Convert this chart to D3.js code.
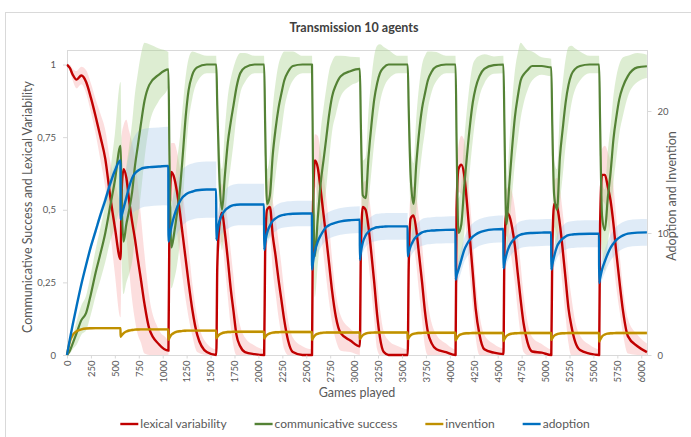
<!DOCTYPE html>
<html>
<head>
<meta charset="utf-8">
<script src="https://cdn.jsdelivr.net/npm/d3@7"></script>
<style>
  body { margin: 0; background: #fff; }
  svg { display: block; font-family: Lato, "Open Sans", sans-serif; }
</style>
</head>
<body>
<svg id="chart" width="691" height="437"></svg>
<script>
// Game index at which each generation starts, and the sampled game offsets inside a generation
const genStarts = [0, 560, 1060, 1560, 2060, 2560, 3060, 3560, 4060, 4560, 5060, 5560];
const firstGenOffsets = [0, 30, 60, 100, 150, 200, 250, 300, 350, 400, 450, 500, 559];
const genOffsets = [0, 10, 30, 60, 90, 120, 150, 180, 210, 250, 300, 400, 499];

// Axis ticks
const xTicks = [0, 250, 500, 750, 1000, 1250, 1500, 1750, 2000, 2250, 2500, 2750, 3000,
  3250, 3500, 3750, 4000, 4250, 4500, 4750, 5000, 5250, 5500, 5750, 6000];
const leftTicks = [0, 0.25, 0.5, 0.75, 1];
const leftTickLabels = ["0", "0,25", "0,5", "0,75", "1"];
const rightTicks = [0, 10, 20];

// Lexical variability (left axis), one row per generation
const lexicalVariability = [
  [1.0, 0.988, 0.965, 0.948, 0.962, 0.94, 0.885, 0.82, 0.75, 0.675, 0.55, 0.44, 0.33],
  [0.33, 0.55, 0.64, 0.61, 0.53, 0.46, 0.40, 0.33, 0.265, 0.175, 0.09, 0.037, 0.015],
  [0.015, 0.45, 0.63, 0.61, 0.56, 0.49, 0.41, 0.33, 0.25, 0.155, 0.07, 0.01, 0.0],
  [0.0, 0.3, 0.44, 0.49, 0.42, 0.33, 0.23, 0.15, 0.07, 0.03, 0.01, 0.003, 0.0],
  [0.0, 0.35, 0.50, 0.51, 0.41, 0.34, 0.26, 0.19, 0.12, 0.05, 0.01, 0.0, 0.0],
  [0.0, 0.5, 0.67, 0.645, 0.57, 0.485, 0.40, 0.31, 0.22, 0.13, 0.075, 0.05, 0.03],
  [0.03, 0.35, 0.51, 0.50, 0.44, 0.35, 0.25, 0.14, 0.06, 0.01, 0.0, 0.0, 0.0],
  [0.0, 0.3, 0.47, 0.48, 0.43, 0.34, 0.25, 0.15, 0.08, 0.04, 0.02, 0.01, 0.0],
  [0.0, 0.5, 0.64, 0.655, 0.62, 0.52, 0.40, 0.28, 0.16, 0.07, 0.02, 0.008, 0.003],
  [0.003, 0.35, 0.49, 0.48, 0.44, 0.375, 0.28, 0.19, 0.11, 0.045, 0.012, 0.008, 0.0],
  [0.0, 0.35, 0.52, 0.51, 0.45, 0.36, 0.26, 0.16, 0.10, 0.045, 0.017, 0.005, 0.0],
  [0.0, 0.45, 0.62, 0.62, 0.58, 0.53, 0.45, 0.35, 0.26, 0.15, 0.065, 0.03, 0.01]
];
const lexicalSpread = [
  [0, 0.01, 0.02, 0.03, 0.03, 0.04, 0.05, 0.06, 0.08, 0.1, 0.12, 0.16, 0.2],
  [0.2, 0.2, 0.15, 0.2, 0.24, 0.27, 0.28, 0.26, 0.22, 0.17, 0.11, 0.05, 0.03],
  [0.02, 0.12, 0.1, 0.12, 0.14, 0.15, 0.15, 0.14, 0.12, 0.09, 0.06, 0.03, 0.02],
  [0.02, 0.1, 0.08, 0.1, 0.12, 0.13, 0.13, 0.12, 0.1, 0.07, 0.05, 0.03, 0.02],
  [0.02, 0.1, 0.08, 0.1, 0.12, 0.13, 0.13, 0.12, 0.1, 0.07, 0.05, 0.03, 0.02],
  [0.02, 0.1, 0.09, 0.11, 0.13, 0.14, 0.14, 0.13, 0.11, 0.08, 0.06, 0.04, 0.03],
  [0.02, 0.1, 0.08, 0.1, 0.12, 0.13, 0.13, 0.12, 0.1, 0.07, 0.05, 0.03, 0.02],
  [0.02, 0.1, 0.08, 0.1, 0.12, 0.13, 0.13, 0.12, 0.1, 0.07, 0.05, 0.03, 0.02],
  [0.02, 0.1, 0.08, 0.1, 0.12, 0.13, 0.13, 0.12, 0.1, 0.07, 0.05, 0.03, 0.02],
  [0.02, 0.1, 0.08, 0.1, 0.12, 0.13, 0.13, 0.12, 0.1, 0.07, 0.05, 0.03, 0.02],
  [0.02, 0.1, 0.08, 0.1, 0.12, 0.13, 0.13, 0.12, 0.1, 0.07, 0.05, 0.03, 0.02],
  [0.02, 0.1, 0.09, 0.1, 0.12, 0.13, 0.13, 0.12, 0.1, 0.08, 0.06, 0.04, 0.03]
];

// Communicative success (left axis)
const communicativeSuccess = [
  [0, 0.015, 0.04, 0.075, 0.12, 0.145, 0.21, 0.285, 0.35, 0.42, 0.51, 0.60, 0.72],
  [0.72, 0.55, 0.39, 0.45, 0.50, 0.56, 0.65, 0.72, 0.79, 0.875, 0.93, 0.965, 0.983],
  [0.983, 0.7, 0.37, 0.42, 0.49, 0.57, 0.69, 0.82, 0.91, 0.965, 0.99, 1.0, 1.0],
  [1.0, 0.86, 0.63, 0.5, 0.62, 0.73, 0.80, 0.86, 0.92, 0.97, 0.99, 1.0, 1.0],
  [1.0, 0.8, 0.52, 0.55, 0.69, 0.78, 0.85, 0.9, 0.945, 0.975, 0.995, 1.0, 1.0],
  [1.0, 0.65, 0.34, 0.47, 0.59, 0.67, 0.75, 0.83, 0.89, 0.93, 0.96, 0.977, 0.985],
  [0.985, 0.8, 0.55, 0.54, 0.68, 0.79, 0.88, 0.935, 0.97, 0.99, 1.0, 1.0, 1.0],
  [1.0, 0.85, 0.62, 0.52, 0.66, 0.77, 0.85, 0.9, 0.945, 0.975, 0.993, 1.0, 1.0],
  [1.0, 0.75, 0.42, 0.45, 0.58, 0.69, 0.79, 0.87, 0.92, 0.96, 0.985, 0.998, 1.0],
  [1.0, 0.8, 0.45, 0.58, 0.71, 0.82, 0.89, 0.945, 0.965, 0.98, 0.995, 0.995, 0.99],
  [0.99, 0.8, 0.55, 0.5, 0.68, 0.78, 0.87, 0.93, 0.965, 0.985, 0.995, 1.0, 1.0],
  [1.0, 0.8, 0.48, 0.43, 0.54, 0.63, 0.745, 0.82, 0.88, 0.925, 0.96, 0.99, 0.994]
];
const communicativeSpread = [
  [0, 0.01, 0.02, 0.04, 0.05, 0.06, 0.07, 0.08, 0.09, 0.1, 0.12, 0.16, 0.22],
  [0.22, 0.2, 0.18, 0.2, 0.22, 0.24, 0.25, 0.25, 0.24, 0.2, 0.14, 0.09, 0.06],
  [0.04, 0.14, 0.14, 0.16, 0.18, 0.18, 0.17, 0.14, 0.11, 0.08, 0.05, 0.03, 0.03],
  [0.02, 0.12, 0.12, 0.14, 0.16, 0.16, 0.15, 0.13, 0.1, 0.07, 0.05, 0.03, 0.03],
  [0.02, 0.12, 0.12, 0.14, 0.16, 0.16, 0.15, 0.13, 0.1, 0.07, 0.05, 0.03, 0.03],
  [0.03, 0.14, 0.14, 0.16, 0.18, 0.18, 0.17, 0.15, 0.12, 0.1, 0.07, 0.05, 0.04],
  [0.03, 0.12, 0.12, 0.14, 0.16, 0.16, 0.15, 0.13, 0.1, 0.07, 0.05, 0.03, 0.03],
  [0.02, 0.12, 0.12, 0.14, 0.16, 0.16, 0.15, 0.13, 0.1, 0.07, 0.05, 0.03, 0.03],
  [0.02, 0.12, 0.12, 0.14, 0.16, 0.16, 0.15, 0.13, 0.1, 0.07, 0.05, 0.03, 0.03],
  [0.02, 0.12, 0.12, 0.14, 0.16, 0.16, 0.15, 0.13, 0.1, 0.07, 0.05, 0.03, 0.03],
  [0.02, 0.12, 0.12, 0.14, 0.16, 0.16, 0.15, 0.13, 0.1, 0.07, 0.05, 0.03, 0.03],
  [0.02, 0.12, 0.12, 0.14, 0.16, 0.16, 0.15, 0.14, 0.12, 0.1, 0.07, 0.05, 0.04]
];

// Invention (right axis)
const invention = [
  [0, 1.1, 1.65, 1.95, 2.1, 2.17, 2.19, 2.2, 2.2, 2.2, 2.2, 2.2, 2.2],
  [1.5, 1.6, 1.78, 1.93, 2.01, 2.05, 2.08, 2.09, 2.1, 2.1, 2.1, 2.1, 2.1],
  [1.25, 1.4, 1.65, 1.82, 1.91, 1.95, 1.98, 1.99, 2.0, 2.0, 2.0, 2.0, 2.0],
  [1.37, 1.48, 1.66, 1.79, 1.85, 1.88, 1.89, 1.9, 1.9, 1.9, 1.9, 1.9, 1.9],
  [1.35, 1.46, 1.65, 1.77, 1.83, 1.86, 1.87, 1.88, 1.88, 1.88, 1.88, 1.88, 1.88],
  [1.25, 1.38, 1.6, 1.74, 1.8, 1.83, 1.84, 1.85, 1.85, 1.85, 1.85, 1.85, 1.85],
  [1.3, 1.42, 1.62, 1.75, 1.81, 1.83, 1.84, 1.85, 1.85, 1.85, 1.85, 1.85, 1.85],
  [1.3, 1.41, 1.6, 1.73, 1.78, 1.8, 1.81, 1.82, 1.82, 1.82, 1.82, 1.82, 1.82],
  [1.2, 1.33, 1.56, 1.7, 1.76, 1.78, 1.79, 1.8, 1.8, 1.8, 1.8, 1.8, 1.8],
  [1.15, 1.29, 1.54, 1.69, 1.75, 1.78, 1.79, 1.8, 1.8, 1.8, 1.8, 1.8, 1.8],
  [1.25, 1.37, 1.58, 1.71, 1.76, 1.78, 1.79, 1.8, 1.8, 1.8, 1.8, 1.8, 1.8],
  [1.1, 1.25, 1.52, 1.68, 1.75, 1.78, 1.79, 1.8, 1.8, 1.8, 1.8, 1.8, 1.8]
];
const inventionSpread = [0.1, 0.12, 0.12, 0.12, 0.12, 0.12, 0.12, 0.12, 0.12, 0.12, 0.12, 0.12];

// Adoption (right axis)
const adoption = [
  [0, 1.3, 2.5, 4.0, 5.8, 7.4, 8.9, 10.2, 11.5, 12.7, 14.0, 15.1, 15.95],
  [11.1, 11.4, 12.0, 12.9, 13.8, 14.5, 14.9, 15.1, 15.25, 15.35, 15.4, 15.45, 15.5],
  [9.3, 9.7, 10.5, 11.4, 12.1, 12.6, 12.95, 13.15, 13.3, 13.4, 13.5, 13.56, 13.56],
  [9.45, 10.0, 10.9, 11.5, 11.85, 12.05, 12.2, 12.28, 12.32, 12.33, 12.33, 12.33, 12.33],
  [8.63, 9.2, 10.0, 10.6, 11.0, 11.2, 11.35, 11.45, 11.5, 11.55, 11.58, 11.6, 11.6],
  [7.0, 7.6, 8.5, 9.3, 9.8, 10.2, 10.5, 10.65, 10.75, 10.85, 10.95, 11.05, 11.1],
  [7.8, 8.4, 9.2, 9.8, 10.1, 10.3, 10.4, 10.47, 10.5, 10.52, 10.54, 10.54, 10.54],
  [8.1, 8.4, 8.9, 9.4, 9.7, 9.9, 10.05, 10.12, 10.17, 10.2, 10.23, 10.26, 10.27],
  [6.16, 6.5, 7.0, 7.8, 8.6, 9.1, 9.45, 9.7, 9.88, 10.05, 10.18, 10.3, 10.33],
  [7.1, 7.5, 8.2, 8.9, 9.3, 9.55, 9.75, 9.87, 9.93, 9.98, 10.0, 10.03, 10.05],
  [7.0, 7.4, 8.1, 8.9, 9.3, 9.55, 9.72, 9.82, 9.87, 9.9, 9.92, 9.94, 9.94],
  [5.9, 6.3, 7.0, 7.7, 8.3, 8.8, 9.15, 9.43, 9.62, 9.8, 9.95, 10.03, 10.05]
];
const adoptionSpread = [
  [0, 0.05, 0.1, 0.15, 0.2, 0.25, 0.3, 0.35, 0.4, 0.45, 0.5, 0.55, 0.6],
  [1.5, 1.7, 2.0, 2.4, 2.7, 3.0, 3.1, 3.2, 3.2, 3.2, 3.2, 3.2, 3.2],
  [1.2, 1.4, 1.7, 2.0, 2.2, 2.3, 2.3, 2.3, 2.3, 2.3, 2.3, 2.3, 2.3],
  [1.0, 1.1, 1.3, 1.5, 1.6, 1.7, 1.7, 1.7, 1.7, 1.7, 1.7, 1.7, 1.7],
  [0.8, 0.85, 0.9, 1.0, 1.0, 1.05, 1.05, 1.05, 1.05, 1.05, 1.05, 1.05, 1.05],
  [0.7, 0.75, 0.85, 0.95, 1.0, 1.05, 1.1, 1.1, 1.1, 1.1, 1.1, 1.1, 1.1],
  [0.7, 0.75, 0.85, 0.95, 1.0, 1.05, 1.1, 1.1, 1.1, 1.1, 1.1, 1.1, 1.1],
  [0.7, 0.75, 0.85, 0.95, 1.0, 1.05, 1.1, 1.1, 1.1, 1.1, 1.1, 1.1, 1.1],
  [0.7, 0.75, 0.85, 0.95, 1.0, 1.05, 1.1, 1.1, 1.1, 1.1, 1.1, 1.1, 1.1],
  [0.7, 0.75, 0.85, 0.95, 1.0, 1.05, 1.1, 1.1, 1.1, 1.1, 1.1, 1.1, 1.1],
  [0.7, 0.75, 0.85, 0.95, 1.0, 1.05, 1.1, 1.1, 1.1, 1.1, 1.1, 1.1, 1.1],
  [0.7, 0.75, 0.85, 0.95, 1.0, 1.05, 1.1, 1.1, 1.1, 1.1, 1.1, 1.1, 1.1]
];

// ---- layout ----
const svg = d3.select("#chart");
const margin = { left: 67, right: 647, top: 50, bottom: 355 };
const textColor = "#595959";
const gridColor = "#d9d9d9";

const x = d3.scaleLinear().domain([0, 6060]).range([margin.left, margin.right]);
const yLeft = d3.scaleLinear().domain([0, 1.05]).range([margin.bottom, margin.top]);
const yRight = d3.scaleLinear().domain([0, 25]).range([margin.bottom, margin.top]);

// Flatten per-generation rows into points with a band (value ± spread)
function buildSeries(values, spreads) {
  const pts = [];
  values.forEach((row, g) => {
    const offs = g === 0 ? firstGenOffsets : genOffsets;
    row.forEach((v, i) => {
      const s = Array.isArray(spreads[g]) ? spreads[g][i] : spreads[g];
      pts.push({ game: genStarts[g] + offs[i], value: v, lo: Math.max(0, v - s), hi: v + s });
    });
  });
  return pts;
}

const series = [
  { name: "lexical variability", color: "#c00000", band: "#f7a8a8", bandOpacity: 0.38, width: 2.4,
    y: yLeft, pts: buildSeries(lexicalVariability, lexicalSpread) },
  { name: "communicative success", color: "#548235", band: "#a9d18e", bandOpacity: 0.4, width: 2.2,
    y: yLeft, pts: buildSeries(communicativeSuccess, communicativeSpread) },
  { name: "invention", color: "#bf9000", band: "#ffd966", bandOpacity: 0.5, width: 2.4,
    y: yRight, pts: buildSeries(invention, inventionSpread) },
  { name: "adoption", color: "#0070c0", band: "#9dc3e6", bandOpacity: 0.33, width: 2.4,
    y: yRight, pts: buildSeries(adoption, adoptionSpread) }
];

// Outer chart frame
svg.append("rect")
  .attr("x", 5.5).attr("y", 12.5).attr("width", 720).attr("height", 450)
  .attr("fill", "none").attr("stroke", gridColor);

// Title
svg.append("text")
  .attr("x", 354).attr("y", 32)
  .attr("text-anchor", "middle")
  .attr("font-size", 12.5).attr("font-weight", "bold")
  .attr("fill", "#404040")
  .text("Transmission 10 agents");

// Plot frame
svg.append("rect")
  .attr("x", margin.left + 0.5).attr("y", margin.top + 0.5)
  .attr("width", margin.right - margin.left).attr("height", margin.bottom - margin.top)
  .attr("fill", "none").attr("stroke", gridColor);

// Bands
const bandLayer = svg.append("g");
series.forEach(s => {
  const area = d3.area()
    .x(d => x(d.game))
    .y0(d => s.y(d.lo))
    .y1(d => s.y(d.hi))
    .curve(d3.curveMonotoneX);
  bandLayer.append("path")
    .datum(s.pts)
    .attr("d", area)
    .attr("fill", s.band)
    .attr("fill-opacity", s.bandOpacity);
});

// Lines
const lineLayer = svg.append("g");
series.forEach(s => {
  const line = d3.line()
    .x(d => x(d.game))
    .y(d => s.y(d.value))
    .curve(d3.curveMonotoneX);
  lineLayer.append("path")
    .datum(s.pts)
    .attr("d", line)
    .attr("fill", "none")
    .attr("stroke", s.color)
    .attr("stroke-width", s.width)
    .attr("stroke-linejoin", "round");
});

// Axes
function styleAxis(g) {
  g.select(".domain").remove();
  g.selectAll(".tick line").attr("stroke", gridColor);
  g.selectAll(".tick text").attr("fill", textColor).attr("font-size", 9.5)
    .attr("font-family", "Lato, 'Open Sans', sans-serif");
}

const xAxis = svg.append("g")
  .attr("transform", `translate(0,${margin.bottom + 0.5})`)
  .call(d3.axisBottom(x).tickValues(xTicks).tickSize(3).tickFormat(d3.format("d")))
  .call(styleAxis);
xAxis.selectAll(".tick text")
  .attr("transform", "rotate(-90)")
  .attr("text-anchor", "end")
  .attr("x", -5).attr("y", 0).attr("dy", "0.35em");

svg.append("g")
  .attr("transform", `translate(${margin.left},0)`)
  .call(d3.axisLeft(yLeft).tickValues(leftTicks).tickSize(4).tickPadding(7)
    .tickFormat((d, i) => leftTickLabels[i]))
  .call(styleAxis);

svg.append("g")
  .attr("transform", `translate(${margin.right + 0.5},0)`)
  .call(d3.axisRight(yRight).tickValues(rightTicks).tickSize(4).tickPadding(6))
  .call(styleAxis);

// Axis titles
svg.append("text")
  .attr("x", 357).attr("y", 397)
  .attr("text-anchor", "middle").attr("font-size", 12.5).attr("fill", textColor)
  .text("Games played");

svg.append("text")
  .attr("transform", "translate(32,207) rotate(-90)")
  .attr("text-anchor", "middle").attr("font-size", 12.5).attr("fill", textColor)
  .text("Communicative Success and Lexical Variability");

svg.append("text")
  .attr("transform", "translate(676,196) rotate(-90)")
  .attr("text-anchor", "middle").attr("font-size", 12.5).attr("fill", textColor)
  .text("Adoption and Invention");

// Legend
const legend = svg.append("g");
const items = series.map(s => {
  const g = legend.append("g");
  g.append("line").attr("x1", 0).attr("x2", 18).attr("y1", 0).attr("y2", 0)
    .attr("stroke", s.color).attr("stroke-width", 2.4);
  const t = g.append("text").attr("x", 20).attr("y", 0).attr("dy", "0.35em")
    .attr("font-size", 12).attr("fill", textColor).text(s.name);
  return { g, w: 20 + t.node().getComputedTextLength() };
});
const gap = 28;
const total = d3.sum(items, d => d.w) + gap * (items.length - 1);
let cx = 355 - total / 2;
items.forEach(it => {
  it.g.attr("transform", `translate(${cx},424)`);
  cx += it.w + gap;
});
</script>
</body>
</html>
